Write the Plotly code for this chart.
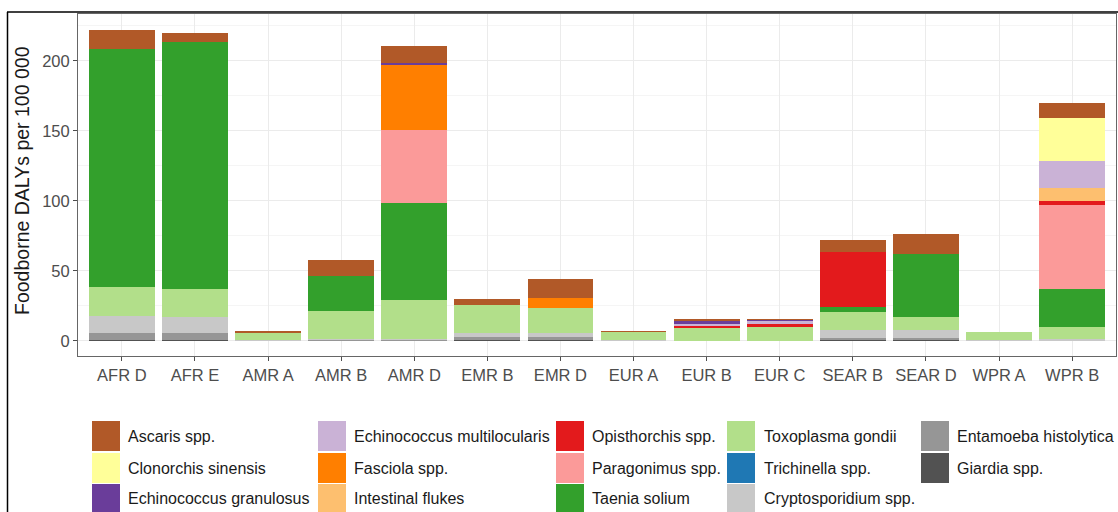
import plotly.graph_objects as go

# WHO sub-regions on the x axis
regions = ["AFR D", "AFR E", "AMR A", "AMR B", "AMR D", "EMR B", "EMR D",
           "EUR A", "EUR B", "EUR C", "SEAR B", "SEAR D", "WPR A", "WPR B"]

# Foodborne DALYs per 100 000 by hazard (one value per region)
ascaris        = [13.6, 6.0, 0.7, 11.4, 12.2, 4.1, 14.0, 0.3, 0.9, 0.6, 8.3, 14.6, 0.0, 11.2]
clonorchis     = [0.0, 0.0, 0.0, 0.0, 0.0, 0.0, 0.0, 0.0, 0.0, 0.0, 0.0, 0.0, 0.0, 30.4]
e_granulosus   = [0.0, 0.0, 0.0, 0.0, 1.5, 0.0, 0.0, 0.0, 2.4, 0.8, 0.0, 0.0, 0.0, 0.0]
e_multi        = [0.0, 0.0, 0.0, 0.0, 0.0, 0.0, 0.0, 0.0, 1.3, 2.2, 0.0, 0.0, 0.0, 19.1]
fasciola       = [0.0, 0.0, 0.0, 0.0, 46.5, 0.0, 7.2, 0.0, 0.0, 0.0, 0.0, 0.0, 0.0, 0.0]
int_flukes     = [0.0, 0.0, 0.0, 0.0, 0.0, 0.0, 0.0, 0.0, 0.0, 0.0, 0.0, 0.0, 0.0, 9.5]
opisthorchis   = [0.0, 0.0, 0.0, 0.0, 0.0, 0.0, 0.0, 0.0, 1.0, 1.9, 39.6, 0.0, 0.0, 2.9]
paragonimus    = [0.0, 0.0, 0.0, 0.0, 52.4, 0.0, 0.0, 0.0, 0.0, 0.0, 0.0, 0.0, 0.0, 60.2]
taenia         = [169.8, 176.5, 0.0, 25.0, 69.0, 0.0, 0.0, 0.0, 0.0, 0.0, 3.2, 44.8, 0.0, 26.9]
toxoplasma     = [21.0, 20.0, 5.6, 20.0, 28.0, 20.2, 17.8, 6.3, 9.6, 10.0, 13.1, 9.5, 5.8, 8.8]
trichinella    = [0.0, 0.0, 0.0, 0.0, 0.0, 0.0, 0.0, 0.0, 0.0, 0.0, 0.0, 0.0, 0.0, 0.0]
cryptosporid   = [11.9, 11.4, 0.3, 0.5, 0.5, 2.9, 2.9, 0.3, 0.0, 0.0, 5.5, 5.5, 0.3, 0.5]
entamoeba      = [5.2, 5.2, 0.0, 0.4, 0.3, 1.9, 1.9, 0.0, 0.0, 0.0, 1.6, 1.6, 0.0, 0.3]
giardia        = [0.5, 0.5, 0.0, 0.3, 0.3, 0.5, 0.5, 0.0, 0.0, 0.0, 0.5, 0.5, 0.0, 0.2]

# Hazards in legend order (first one sits on top of each stack)
hazards = ["Ascaris spp.", "Clonorchis sinensis", "Echinococcus granulosus",
           "Echinococcus multilocularis", "Fasciola spp.", "Intestinal flukes",
           "Opisthorchis spp.", "Paragonimus spp.", "Taenia solium",
           "Toxoplasma gondii", "Trichinella spp.", "Cryptosporidium spp.",
           "Entamoeba histolytica", "Giardia spp."]
series = [ascaris, clonorchis, e_granulosus, e_multi, fasciola, int_flukes,
          opisthorchis, paragonimus, taenia, toxoplasma, trichinella,
          cryptosporid, entamoeba, giardia]
colors = ["#B15928", "#FFFF99", "#6A3D9A", "#CAB2D6", "#FF7F00", "#FDBF6F",
          "#E31A1C", "#FB9A99", "#33A02C", "#B2DF8A", "#1F78B4", "#C8C8C8",
          "#969696", "#525252"]

W, H = 1118, 512
L, R, T, B = 78, 1116, 14, 356

fig = go.Figure()
# stack from the bottom: last hazard first
for name, vals, col in reversed(list(zip(hazards, series, colors))):
    fig.add_trace(go.Bar(x=regions, y=vals, name=name, marker_color=col,
                         marker_line_width=0, width=0.9, showlegend=False))

fig.update_layout(
    width=W, height=H, barmode="stack",
    margin=dict(l=L, r=W - R, t=T, b=H - B, pad=0),
    paper_bgcolor="white", plot_bgcolor="white",
    font=dict(family="Liberation Sans, Arial, sans-serif", color="#4D4D4D"),
)
fig.update_xaxes(
    range=[-0.6, 13.6], showgrid=True, gridcolor="#EBEBEB", gridwidth=1,
    ticks="outside", ticklen=4, tickcolor="#4D4D4D", tickwidth=1,
    tickfont=dict(size=16.5, color="#4D4D4D"),
    showline=True, linecolor="#666666", linewidth=1, mirror=True, zeroline=False,
)
fig.update_yaxes(
    range=[-10.9, 233.4], tickvals=[0, 50, 100, 150, 200],
    showgrid=True, gridcolor="#EBEBEB", gridwidth=1,
    minor=dict(tickvals=[25, 75, 125, 175, 225], showgrid=True,
               gridcolor="#F5F5F5", gridwidth=1, ticklen=0),
    ticks="outside", ticklen=4, tickcolor="#4D4D4D", tickwidth=1,
    tickfont=dict(size=16.5, color="#4D4D4D"),
    showline=True, linecolor="#666666", linewidth=1, mirror=True, zeroline=False,
)


def px_x(px):
    return (px - L) / (R - L)


def px_y(py):
    return (B - py) / (B - T)


annotations = [dict(
    text="Foodborne DALYs per 100 000", textangle=-90,
    xref="paper", yref="paper", x=px_x(22), y=px_y(181),
    xanchor="center", yanchor="middle", showarrow=False,
    font=dict(size=19.5, color="#1A1A1A"),
)]
shapes = []

# legend grid: five columns of three rows, filled column by column
col_swatch_x = [92, 318, 556, 727, 921]
col_text_x = [126, 352, 590, 762, 955]
row_center_y = [436, 468, 499]
sw_w, sw_h = 28, 30
for i, (name, col) in enumerate(zip(hazards, colors)):
    c, r = divmod(i, 3)
    cy = row_center_y[r]
    shapes.append(dict(
        type="rect", xref="paper", yref="paper", layer="above",
        x0=px_x(col_swatch_x[c]), x1=px_x(col_swatch_x[c] + sw_w),
        y0=px_y(cy - sw_h / 2), y1=px_y(cy + sw_h / 2),
        fillcolor=col, line=dict(width=0),
    ))
    annotations.append(dict(
        text=name, xref="paper", yref="paper",
        x=px_x(col_text_x[c]), y=px_y(cy), xanchor="left", yanchor="middle",
        showarrow=False, font=dict(size=16, color="#1A1A1A"),
    ))

# outer frame around the figure (top and left edges)
shapes.append(dict(type="line", xref="paper", yref="paper",
                   x0=px_x(7), x1=px_x(W + 5), y0=px_y(12), y1=px_y(12),
                   line=dict(color="black", width=1.5)))
shapes.append(dict(type="line", xref="paper", yref="paper",
                   x0=px_x(7.5), x1=px_x(7.5), y0=px_y(12), y1=px_y(H + 5),
                   line=dict(color="black", width=1.5)))

fig.update_layout(annotations=annotations, shapes=shapes)
fig.write_html("out.html")
